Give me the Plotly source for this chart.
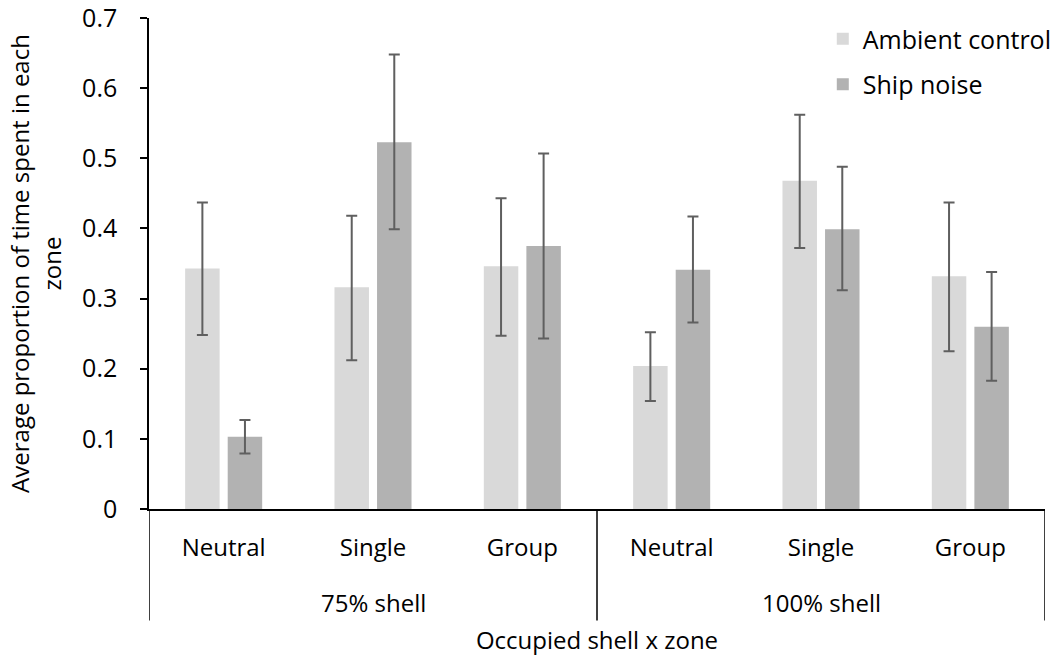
import plotly.graph_objects as go

shell_groups = ["75% shell", "100% shell"]
zones = ["Neutral", "Single", "Group"] * 2

ambient = [0.343, 0.316, 0.346, 0.204, 0.468, 0.332]
ambient_err_plus = [0.094, 0.102, 0.097, 0.048, 0.094, 0.105]
ambient_err_minus = [0.095, 0.104, 0.099, 0.050, 0.096, 0.107]

ship = [0.103, 0.523, 0.375, 0.341, 0.399, 0.260]
ship_err_plus = [0.024, 0.125, 0.132, 0.076, 0.089, 0.078]
ship_err_minus = [0.024, 0.124, 0.132, 0.075, 0.087, 0.077]

FONT = "Open Sans, Noto Sans, sans-serif"
ERR_COLOR = "#5f5f5f"

pos = list(range(len(zones)))
per_group = len(zones) // len(shell_groups)

fig = go.Figure()
fig.add_trace(go.Bar(
    name="Ambient control", x=pos, y=ambient,
    legendgroup="a",
    marker=dict(color="#d9d9d9", line=dict(width=0)),
    error_y=dict(type="data", symmetric=False, array=ambient_err_plus,
                 arrayminus=ambient_err_minus, color=ERR_COLOR,
                 thickness=2, width=5.5),
))
fig.add_trace(go.Bar(
    name="Ship noise", x=pos, y=ship,
    legendgroup="b",
    marker=dict(color="#b2b2b2", line=dict(width=0)),
    error_y=dict(type="data", symmetric=False, array=ship_err_plus,
                 arrayminus=ship_err_minus, color=ERR_COLOR,
                 thickness=2, width=5.5),
))

# group dividers and group labels below the category labels
for g, name in enumerate(shell_groups):
    start = g * per_group - 0.5
    fig.add_annotation(
        x=start + per_group / 2, xref="x", y=-0.191, yref="paper",
        text=name, showarrow=False, font=dict(size=24),
        xanchor="center", yanchor="middle",
    )
for k in range(len(shell_groups) + 1):
    fig.add_shape(
        type="line", xref="x", yref="paper",
        x0=k * per_group - 0.5, x1=k * per_group - 0.5, y0=0, y1=-0.227,
        line=dict(color="black", width=1.5),
    )

fig.update_layout(
    width=1064, height=660,
    margin=dict(l=149, r=19, t=18, b=151, autoexpand=False),
    paper_bgcolor="white", plot_bgcolor="white",
    barmode="group", bargap=0.43, bargroupgap=0.19,
    font=dict(family=FONT, size=24, color="black"),
    showlegend=True,
    legend=dict(x=0.752, y=1.004, xanchor="left", yanchor="top",
                font=dict(size=25), bgcolor="rgba(0,0,0,0)",
                tracegroupgap=10),
    xaxis=dict(
        range=[-0.5, len(zones) - 0.5],
        tickmode="array", tickvals=pos, ticktext=zones,
        automargin=True,
        showline=True, linecolor="black", linewidth=2,
        showgrid=False, ticks="", zeroline=False,
        ticklabelstandoff=16,
        tickfont=dict(size=24),
        title=dict(text="Occupied shell x zone", font=dict(size=24), standoff=70),
    ),
    yaxis=dict(
        range=[0, 0.7], dtick=0.1, tickformat="~g", automargin=True,
        showline=True, linecolor="black", linewidth=1.5,
        ticks="outside", ticklen=7, tickcolor="black", tickwidth=1.5,
        ticklabelstandoff=18, ticklabeloverflow="allow",
        showgrid=False, zeroline=False,
        tickfont=dict(size=25),
        title=dict(text="Average proportion of time spent in each<br>zone",
                   font=dict(size=24), standoff=14),
    ),
)

fig.write_html(
    "out.html",
    config={"displayModeBar": False},
    post_script="document.body.style.margin='0';",
)
